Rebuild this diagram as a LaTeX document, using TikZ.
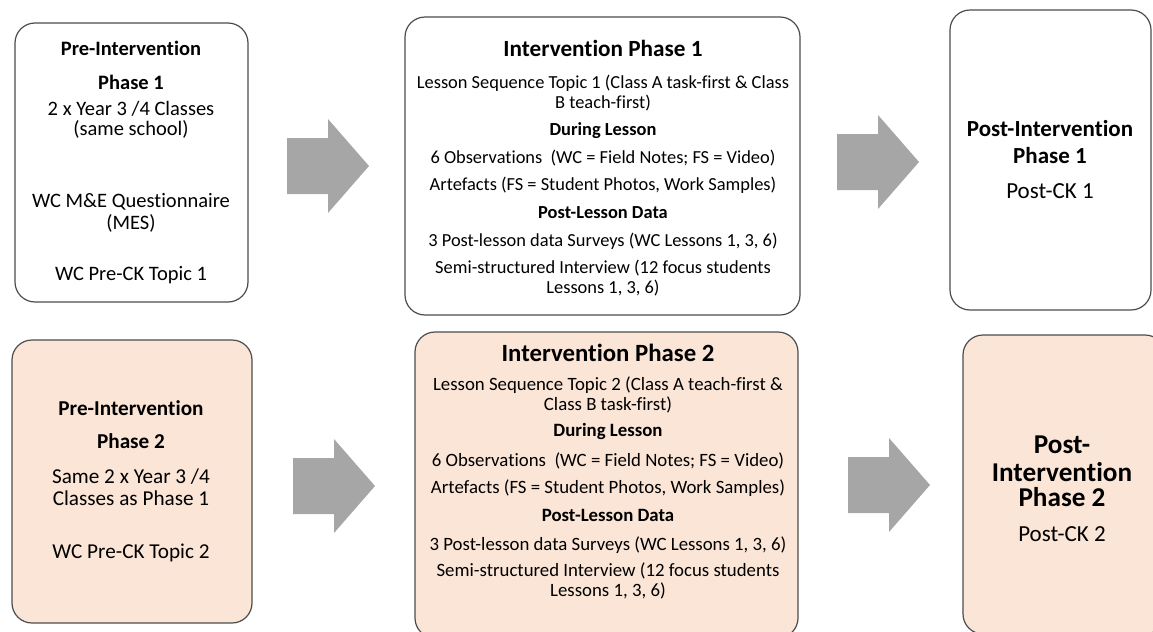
\documentclass[tikz,border=0pt]{standalone}
\usepackage{fontspec}
\setmainfont{Carlito}[Ligatures=NoCommon]
\usepackage{xcolor}
\usepackage{tikz}
\usetikzlibrary{fit}

\definecolor{peachfill}{HTML}{FBE5D6}
\definecolor{arrowgrey}{HTML}{A6A6A6}

\newcommand{\boxfont}[1]{\fontsize{#1}{10}\selectfont\lineskiplimit-100pt\relax}

\tikzset{
  blockarrow/.pic={
    \fill[arrowgrey] (0,-28) -- (41,-28) -- (41,-47) -- (82,0) -- (41,47) -- (41,28) -- (0,28) -- cycle;
  }
}

\begin{document}
\begin{tikzpicture}[x=0.5pt, y=-0.5pt,
  phasebox/.style={draw=black!70, line width=0.6pt, rounded corners=10pt, inner sep=0pt},
  peachbox/.style={phasebox, fill=peachfill},
  boxtext/.style={align=center, inner sep=0pt, anchor=north, font=\boxfont{#1}}
]
\useasboundingbox (0,0) rectangle (1153,632);

\node[phasebox, fit={(15,23) (248,302)}] (pre1) {};
\node[phasebox, fit={(405,17) (800,315)}] (int1) {};
\node[phasebox, fit={(950,10) (1151,310)}] (post1) {};

\node[peachbox, fit={(12,340) (252,623)}] (pre2) {};
\node[peachbox, fit={(415,332) (798,638)}] (int2) {};
\node[peachbox, fit={(963,335) (1165,634)}] (post2) {};

\pic at (287,166) {blockarrow};
\pic at (837,162) {blockarrow};
\pic at (293,486) {blockarrow};
\pic at (848,485) {blockarrow};

\node[boxtext=10.25] (pre1text) at (131,41) {\textbf{Pre-Intervention}\\[7pt]
  \textbf{Phase 1}\\[3pt]
  2 x Year 3 /4 Classes\\
  (same school)\\[26pt]
  WC M\&E Questionnaire\\[1pt]
  (MES)\\[15.5pt]
  WC Pre-CK Topic 1};

\node[boxtext=9.2] (int1text) at (603,40) {{\fontsize{11.6}{10}\selectfont\textbf{Intervention Phase 1}}\\[6pt]
  Lesson Sequence Topic 1 (Class A task-first \& Class\\
  B teach-first)\\[3.5pt]
  \textbf{During Lesson}\\[4pt]
  6 Observations~~(WC = Field Notes; FS = Video)\\[3.5pt]
  Artefacts (FS = Student Photos, Work Samples)\\[4pt]
  \textbf{Post-Lesson Data}\\[4pt]
  3 Post-lesson data Surveys (WC Lessons 1, 3, 6)\\[3.5pt]
  Semi-structured Interview (12 focus students\\
  Lessons 1, 3, 6)};

\node[boxtext=11.5] (post1text) at (1050,120) {\textbf{Post-Intervention}\\[3.5pt]
  \textbf{Phase 1}\\[7.5pt]
  Post-CK 1};

\node[boxtext=10.6] (pre2text) at (131,400) {\textbf{Pre-Intervention}\\[6.5pt]
  \textbf{Phase 2}\\[7.5pt]
  Same 2 x Year 3 /4\\[1pt]
  Classes as Phase 1\\[16.5pt]
  WC Pre-CK Topic 2};

\node[boxtext=9.4] (int2text) at (608,344) {{\fontsize{12.4}{10}\selectfont\textbf{Intervention Phase 2}}\\[4.5pt]
  Lesson Sequence Topic 2 (Class A teach-first \&\\
  Class B task-first)\\[3pt]
  \textbf{During Lesson}\\[5pt]
  6 Observations~~(WC = Field Notes; FS = Video)\\[3.5pt]
  Artefacts (FS = Student Photos, Work Samples)\\[4pt]
  \textbf{Post-Lesson Data}\\[4.5pt]
  3 Post-lesson data Surveys (WC Lessons 1, 3, 6)\\[3pt]
  Semi-structured Interview (12 focus students\\
  Lessons 1, 3, 6)};

\node[boxtext=11.5] (post2text) at (1062,435) {{\fontsize{13.6}{10}\selectfont\textbf{Post-}}\\[4pt]
  {\fontsize{13.6}{10}\selectfont\textbf{Intervention}}\\[2.5pt]
  {\fontsize{13.6}{10}\selectfont\textbf{Phase 2}}\\[7.5pt]
  Post-CK 2};
\end{tikzpicture}
\end{document}
